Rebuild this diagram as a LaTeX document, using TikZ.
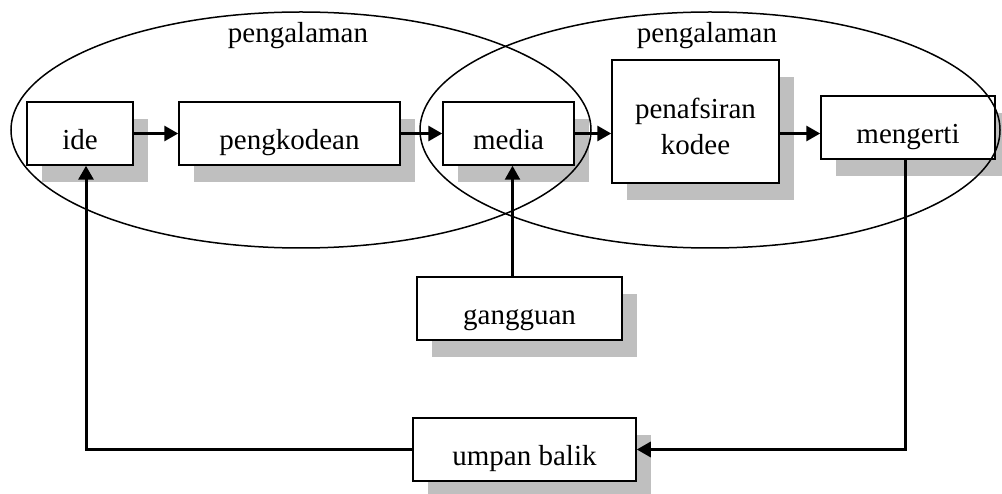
\documentclass[tikz,border=0pt]{standalone}
\usepackage{fontspec}
\setmainfont{Liberation Serif}
\usetikzlibrary{arrows.meta,shadows}
\tikzset{
  >={Triangle[length=14pt,width=15pt]},
  box/.style={draw, line width=1.5pt, fill=white, inner sep=0,
              minimum height=63pt, align=center,
              text height=35pt, text depth=3pt,
              drop shadow={shadow xshift=15pt, shadow yshift=-17pt,
                           fill=black!25, opacity=1}},
  flow/.style={->, line width=3pt},
  ring/.style={line width=1.5pt},
}

\begin{document}
\begin{tikzpicture}[x=1pt, y=-1pt, font=\fontsize{29}{36}\selectfont]
    \useasboundingbox (0,0) rectangle (1002,494);
    % boxes
    \node[box, minimum width=106pt] (ide) at (80,133.5) {ide};
    \node[box, minimum width=221pt] (kode) at (289.5,133.5) {pengkodean};
    \node[box, minimum width=131pt] (media) at (508.5,133.5) {media};
    \node[box, minimum width=167pt, minimum height=123pt,
          text height=66pt, text depth=0pt] (tafsir) at (695.5,121.5) {penafsiran\\kodee};
    \node[box, minimum width=174pt] (ngerti) at (908,127.5) {mengerti};
    \node[box, minimum width=205pt] (ganggu) at (519.5,308.5) {gangguan};
    \node[box, minimum width=223pt] (balik) at (524.5,449.5) {umpan balik};
    % pengalaman
    \foreach \cx/\lx in {301/298, 710/707}{
        \draw[ring] (\cx,130) ellipse [x radius=290pt, y radius=118pt];
        \node (lbl\cx) at (\lx,36) {pengalaman};
    }
    \draw[flow] (ide) -- (kode);
    \draw[flow] (kode) -- (media);
    \draw[flow] (media.east) -- (media.east -| tafsir.west);
    \draw[flow] (tafsir.east |- media.east) -- (ngerti.west |- media.east);
    \draw[flow, line width=2.5pt] ([xshift=-7pt]ganggu.north) -- ([xshift=-7pt]ganggu.north |- media.south);
    \draw[flow] (balik.west) -| ([xshift=6pt]ide.south);
    \draw[flow] ([xshift=-3pt]ngerti.south) |- (balik.east);
\end{tikzpicture}
\end{document}
